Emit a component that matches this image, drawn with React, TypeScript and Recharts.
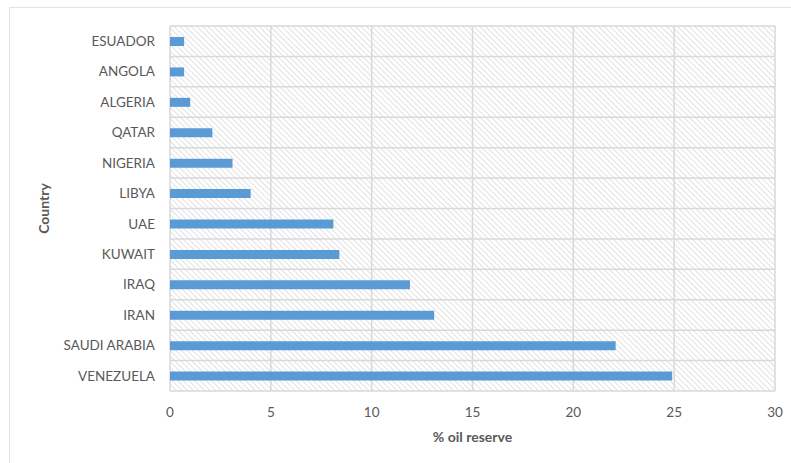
import { BarChart, Bar, XAxis, YAxis, CartesianGrid } from 'recharts';

// 国家 / 石油储量占比 (%)
const countries = [
  'ESUADOR',
  'ANGOLA',
  'ALGERIA',
  'QATAR',
  'NIGERIA',
  'LIBYA',
  'UAE',
  'KUWAIT',
  'IRAQ',
  'IRAN',
  'SAUDI ARABIA',
  'VENEZUELA',
];
const reserves = [0.7, 0.7, 1.0, 2.1, 3.1, 4.0, 8.1, 8.4, 11.9, 13.1, 22.1, 24.9];
const xTicks = [0, 5, 10, 15, 20, 25, 30];

const data = countries.map((country, i) => ({ country, reserve: reserves[i] }));

const FONT = 'Lato, "Liberation Sans", sans-serif';
const TEXT = '#595959';
const GRID = '#d9d9d9';

// horizontal grid lines sit on category boundaries, not centres
const bandLines = ({ offset }: any) => {
  const step = offset.height / countries.length;
  return countries.map((_, i) => offset.top + i * step).concat(offset.top + offset.height);
};

export default function App() {
  return (
    <div style={{ position: 'absolute', left: 0, top: 0, width: 791, height: 463, background: '#fff' }}>
      <div
        style={{
          position: 'absolute',
          left: 9,
          top: 7,
          width: 800,
          height: 480,
          border: '1px solid #e3e3e3',
        }}
      />
      <BarChart
        width={791}
        height={463}
        data={data}
        layout="vertical"
        margin={{ top: 26, right: 16, bottom: 42, left: 0 }}
        style={{ position: 'absolute', left: 0, top: 0, fontFamily: FONT }}
      >
        <defs>
          <pattern id="hatch" width="4" height="4" patternUnits="userSpaceOnUse" patternTransform="rotate(-45)">
            <rect width="4" height="4" fill="#ffffff" />
            <line x1="0" y1="0" x2="0" y2="4" stroke="#cdcdcd" strokeWidth="1.2" />
          </pattern>
        </defs>
        <CartesianGrid
          fill="url(#hatch)"
          stroke={GRID}
          strokeWidth={1.5}
          horizontalCoordinatesGenerator={bandLines}
        />
        <XAxis
          type="number"
          domain={[0, 30]}
          ticks={xTicks}
          axisLine={false}
          tickLine={false}
          tickMargin={10}
          height={30}
          tick={{ fill: TEXT, fontSize: 13.5, fontFamily: FONT }}
          label={{
            position: 'bottom',
            content: ({ viewBox }: any) => (
              <text
                x={viewBox.x + viewBox.width / 2}
                y={viewBox.y + 51}
                textAnchor="middle"
                fill={TEXT}
                fontSize={14}
                fontWeight="bold"
                fontFamily={FONT}
              >
                % oil reserve
              </text>
            ),
          }}
        />
        <YAxis
          type="category"
          dataKey="country"
          width={170}
          axisLine={false}
          tickLine={false}
          tickMargin={9}
          interval={0}
          tick={{ fill: TEXT, fontSize: 13.5, fontFamily: FONT }}
          label={{
            position: 'left',
            content: ({ viewBox }: any) => {
              const cx = 43;
              const cy = viewBox.y + viewBox.height / 2;
              return (
                <text
                  x={cx}
                  y={cy}
                  transform={`rotate(-90, ${cx}, ${cy})`}
                  textAnchor="middle"
                  dominantBaseline="central"
                  fill={TEXT}
                  fontSize={14}
                  fontWeight="bold"
                  fontFamily={FONT}
                >
                  Country
                </text>
              );
            },
          }}
        />
        <Bar dataKey="reserve" fill="#5b9bd5" barSize={9} isAnimationActive={false} />
      </BarChart>
    </div>
  );
}
